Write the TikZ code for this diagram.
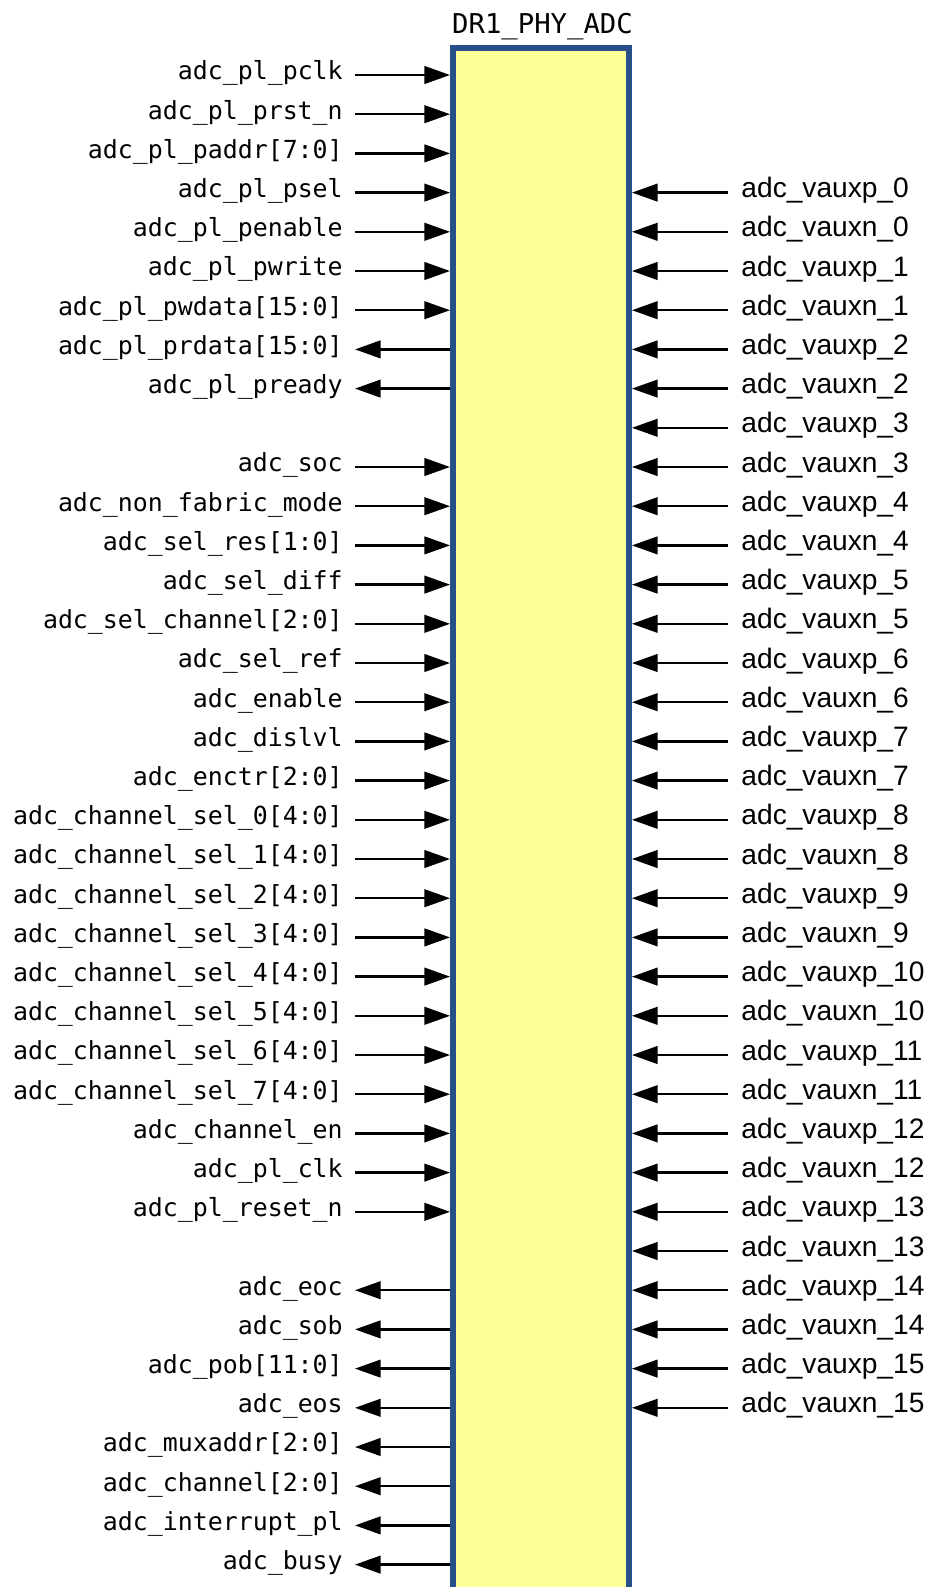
\documentclass[tikz,border=0pt]{standalone}
\usepackage{fontspec}
\usetikzlibrary{arrows.meta}
\newfontfamily\pinfont{DejaVu Sans Mono}
\newfontfamily\auxfont{Liberation Sans}
\definecolor{dutfill}{RGB}{255,255,153}
\definecolor{dutedge}{RGB}{41,79,139}
\tikzset{
  dutbox/.style={draw=dutedge, fill=dutfill, line width=4.2pt, minimum width=4.4cm, minimum height=40cm, inner sep=0pt},
  sig/.style={line width=1.6pt, -{Triangle[length=0.64cm, width=0.44cm]}},
  pinL/.style={anchor=east, inner xsep=0.3cm, inner ysep=0pt, text height=0.95em, text depth=0.25em, font=\pinfont\fontsize{17.7}{20}\selectfont},
  pinR/.style={anchor=west, inner xsep=0.33cm, inner ysep=0pt, text height=0.96em, text depth=0.25em, font=\auxfont\fontsize{20}{24}\selectfont}
}
\begin{document}
\begin{tikzpicture}[x=0.025cm, y=-0.025cm]
			%%%%% START %%%%%
			\useasboundingbox (0, 0) rectangle (931, 1587);
			
			\node[dutbox, anchor=north] (dut) at (541, 45) {};
			\node[anchor=base, font=\pinfont\fontsize{19.4}{22}\selectfont] (title) at (542.5, 33) {DR1\_PHY\_ADC};
			
			% left side, i = into the block, o = out of it
			\foreach \row/\name/\dir in {
				1/adc\_pl\_pclk/i, 2/adc\_pl\_prst\_n/i, 3/adc\_pl\_paddr[7:0]/i,
				4/adc\_pl\_psel/i, 5/adc\_pl\_penable/i, 6/adc\_pl\_pwrite/i,
				7/adc\_pl\_pwdata[15:0]/i, 8/adc\_pl\_prdata[15:0]/o, 9/adc\_pl\_pready/o,
				11/adc\_soc/i, 12/adc\_non\_fabric\_mode/i, 13/adc\_sel\_res[1:0]/i,
				14/adc\_sel\_diff/i, 15/adc\_sel\_channel[2:0]/i, 16/adc\_sel\_ref/i,
				17/adc\_enable/i, 18/adc\_dislvl/i, 19/adc\_enctr[2:0]/i,
				20/adc\_channel\_sel\_0[4:0]/i, 21/adc\_channel\_sel\_1[4:0]/i,
				22/adc\_channel\_sel\_2[4:0]/i, 23/adc\_channel\_sel\_3[4:0]/i,
				24/adc\_channel\_sel\_4[4:0]/i, 25/adc\_channel\_sel\_5[4:0]/i,
				26/adc\_channel\_sel\_6[4:0]/i, 27/adc\_channel\_sel\_7[4:0]/i,
				28/adc\_channel\_en/i, 29/adc\_pl\_clk/i, 30/adc\_pl\_reset\_n/i,
				32/adc\_eoc/o, 33/adc\_sob/o, 34/adc\_pob[11:0]/o, 35/adc\_eos/o,
				36/adc\_muxaddr[2:0]/o, 37/adc\_channel[2:0]/o,
				38/adc\_interrupt\_pl/o, 39/adc\_busy/o}
			{
				\node[pinL] (L\row) at (355, {75+(\row-1)*39.2}) {\name};
				\if\dir i
					\draw[sig] (L\row) -- (L\row -| dut.west);
				\else
					\draw[sig] (L\row -| dut.west) -- (L\row);
				\fi
			}
			
			% right side, all into the block
			\foreach \k in {0,...,15}
			{
				\node[pinR] (Rp\k) at (728, {75+(3+2*\k)*39.2}) {adc\_vauxp\_\k};
				\node[pinR] (Rn\k) at (728, {75+(4+2*\k)*39.2}) {adc\_vauxn\_\k};
				\draw[sig] (Rp\k) -- (Rp\k -| dut.east);
				\draw[sig] (Rn\k) -- (Rn\k -| dut.east);
			}
			%%%%% END %%%%%
\end{tikzpicture}
\end{document}
